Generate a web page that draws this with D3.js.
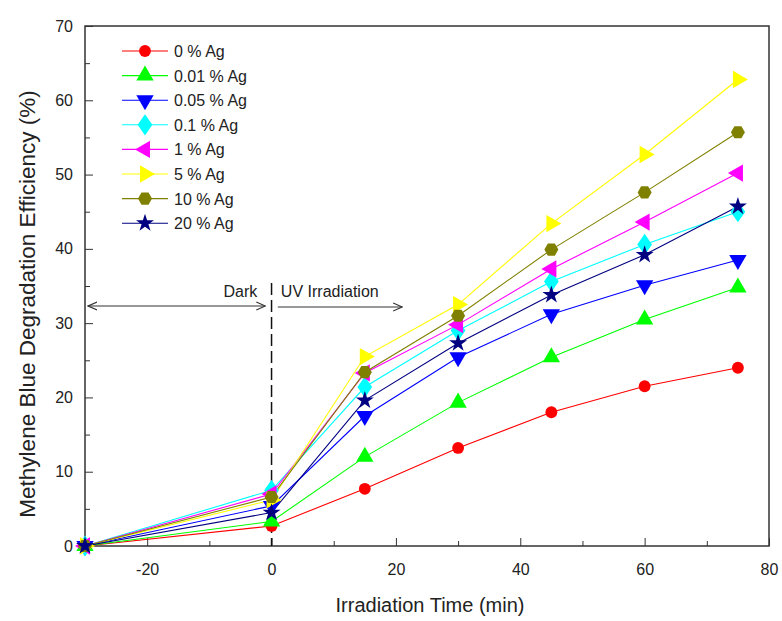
<!DOCTYPE html>
<html lang="en">
<head>
  <meta charset="utf-8">
  <title>Methylene Blue Degradation</title>
  <script src="https://d3js.org/d3.v7.min.js"></script>
  <style>
    body { margin: 0; background: #fff; }
    text { font-family: Arial, "Liberation Sans", sans-serif; fill: #222; }
    .axis path, .axis line { stroke: #333; }
  </style>
</head>
<body>
<svg width="782" height="621"></svg>
<script>
  // data
  var times = [-30, 0, 15, 30, 45, 60, 75];
  var labels = ["0 % Ag", "0.01 % Ag", "0.05 % Ag", "0.1 % Ag", "1 % Ag", "5 % Ag", "10 % Ag", "20 % Ag"];
  var ag0   = [0, 2.7, 7.7, 13.2, 18.0, 21.5, 24.0];
  var ag001 = [0, 3.3, 12.0, 19.3, 25.4, 30.5, 34.8];
  var ag005 = [0, 5.4, 17.5, 25.4, 31.2, 35.1, 38.5];
  var ag01  = [0, 7.5, 21.4, 29.0, 35.6, 40.6, 45.0];
  var ag1   = [0, 7.0, 23.3, 29.8, 37.3, 43.6, 50.2];
  var ag5   = [0, 6.2, 25.5, 32.5, 43.4, 52.7, 62.8];
  var ag10  = [0, 6.6, 23.4, 31.0, 39.9, 47.6, 55.7];
  var ag20  = [0, 4.5, 19.6, 27.3, 33.8, 39.2, 45.7];
  var seriesValues = [ag0, ag001, ag005, ag01, ag1, ag5, ag10, ag20];
  var colors = ["#ff0000", "#00ff00", "#0000ff", "#00ffff", "#ff00ff", "#ffff00", "#808000", "#000080"];
  var xTicks = [-20, 0, 20, 40, 60, 80];
  var yTicks = [0, 10, 20, 30, 40, 50, 60, 70];

  var svg = d3.select("svg");
  var pLeft = 85, pRight = 769, pTop = 26, pBottom = 546;

  var x = d3.scaleLinear().domain([-30, 80]).range([pLeft, pRight]);
  var y = d3.scaleLinear().domain([0, 70]).range([pBottom, pTop]);

  // frame
  svg.append("rect")
    .attr("x", pLeft).attr("y", pTop)
    .attr("width", pRight - pLeft).attr("height", pBottom - pTop)
    .attr("fill", "none").attr("stroke", "#333").attr("stroke-width", 1.5);

  // x axis, ticks inward
  svg.append("g").attr("class", "axis")
    .attr("transform", "translate(0," + pBottom + ")")
    .call(d3.axisBottom(x).tickValues(d3.range(-20, 81, 10)).tickSize(-8).tickPadding(18)
      .tickFormat(function(d) { return xTicks.indexOf(d) >= 0 ? d : ""; }))
    .call(function(g) {
      g.select(".domain").remove();
      g.selectAll(".tick line").attr("y2", function(d) { return xTicks.indexOf(d) >= 0 ? -8 : -5; });
      g.selectAll("text").attr("font-size", 16).attr("font-family", "Arial, 'Liberation Sans', sans-serif").attr("fill", "#222");
    });

  // y axis
  svg.append("g").attr("class", "axis")
    .attr("transform", "translate(" + pLeft + ",0)")
    .call(d3.axisLeft(y).tickValues(d3.range(0, 71, 5)).tickSize(-8).tickPadding(12)
      .tickFormat(function(d) { return yTicks.indexOf(d) >= 0 ? d : ""; }))
    .call(function(g) {
      g.select(".domain").remove();
      g.selectAll(".tick line").attr("x2", function(d) { return yTicks.indexOf(d) >= 0 ? 8 : 5; });
      g.selectAll("text").attr("font-size", 16).attr("font-family", "Arial, 'Liberation Sans', sans-serif").attr("fill", "#222");
    });

  // axis titles
  svg.append("text")
    .attr("x", 430).attr("y", 612)
    .attr("text-anchor", "middle").attr("font-size", 20)
    .text("Irradiation Time (min)");
  svg.append("text")
    .attr("transform", "translate(35,304) rotate(-90)")
    .attr("text-anchor", "middle").attr("font-size", 22.5)
    .text("Methylene Blue Degradation Efficiency (%)");

  // annotations: dashed divider and arrows
  svg.append("defs").append("marker")
    .attr("id", "arrow").attr("viewBox", "0 0 10 10")
    .attr("refX", 9).attr("refY", 5)
    .attr("markerWidth", 10).attr("markerHeight", 10)
    .attr("markerUnits", "userSpaceOnUse")
    .attr("orient", "auto-start-reverse")
    .append("path").attr("d", "M0,1 L9,5 L0,9").attr("fill", "none").attr("stroke", "#333").attr("stroke-width", 1.2);

  svg.append("line")
    .attr("x1", x(0)).attr("x2", x(0))
    .attr("y1", 283).attr("y2", pBottom)
    .attr("stroke", "#111").attr("stroke-width", 1.5).attr("stroke-dasharray", "12,5");

  svg.append("line")
    .attr("x1", x(-29.5)).attr("x2", x(-1)).attr("y1", 306).attr("y2", 306)
    .attr("stroke", "#333").attr("stroke-width", 1.2)
    .attr("marker-start", "url(#arrow)").attr("marker-end", "url(#arrow)");
  svg.append("line")
    .attr("x1", x(1)).attr("x2", x(21)).attr("y1", 307).attr("y2", 307)
    .attr("stroke", "#333").attr("stroke-width", 1.2)
    .attr("marker-end", "url(#arrow)");

  svg.append("text").attr("x", x(-2.3)).attr("y", 297)
    .attr("text-anchor", "end").attr("font-size", 16).text("Dark");
  svg.append("text").attr("x", x(1.5)).attr("y", 297)
    .attr("font-size", 16).text("UV Irradiation");

  // one marker shape per series
  function drawMarker(g, i) {
    var p;
    if (i === 0) p = g.append("path").attr("d", d3.symbol().type(d3.symbolCircle).size(110)());
    else if (i === 1) p = g.append("path").attr("d", d3.symbol().type(d3.symbolTriangle).size(130)());
    else if (i === 2) p = g.append("path").attr("d", d3.symbol().type(d3.symbolTriangle).size(130)()).attr("transform", "rotate(180)");
    else if (i === 3) p = g.append("path").attr("d", d3.symbol().type(d3.symbolDiamond).size(130)()).attr("transform", "scale(1.2,1)");
    else if (i === 4) p = g.append("path").attr("d", d3.symbol().type(d3.symbolTriangle).size(130)()).attr("transform", "rotate(-90)");
    else if (i === 5) p = g.append("path").attr("d", d3.symbol().type(d3.symbolTriangle).size(130)()).attr("transform", "rotate(90)");
    else if (i === 6) p = g.append("path").attr("d", d3.line()(d3.range(6).map(function(k) {
        var a = Math.PI / 3 * k; return [7 * Math.cos(a), 7 * Math.sin(a)]; })) + "Z");
    else p = g.append("path").attr("d", d3.symbol().type(d3.symbolStar).size(100)());
    p.attr("fill", colors[i]);
  }

  var line = d3.line()
    .x(function(d, k) { return x(times[k]); })
    .y(function(d) { return y(d); });

  seriesValues.forEach(function(vals, i) {
    svg.append("path")
      .attr("d", line(vals))
      .attr("fill", "none").attr("stroke", colors[i]).attr("stroke-width", 1.1);
  });
  seriesValues.forEach(function(vals, i) {
    vals.forEach(function(v, k) {
      var g = svg.append("g").attr("transform", "translate(" + x(times[k]) + "," + y(v) + ")");
      drawMarker(g, i);
    });
  });

  // legend
  var legend = svg.append("g").attr("transform", "translate(122,51)");
  labels.forEach(function(lab, i) {
    var row = legend.append("g").attr("transform", "translate(0," + i * 24.6 + ")");
    row.append("line").attr("x1", 0).attr("x2", 46).attr("y1", 0).attr("y2", 0)
      .attr("stroke", colors[i]).attr("stroke-width", 1.1);
    var m = row.append("g").attr("transform", "translate(23,0)");
    drawMarker(m, i);
    row.append("text").attr("x", 52).attr("y", 6).attr("font-size", 16).text(lab);
  });
</script>
</body>
</html>
